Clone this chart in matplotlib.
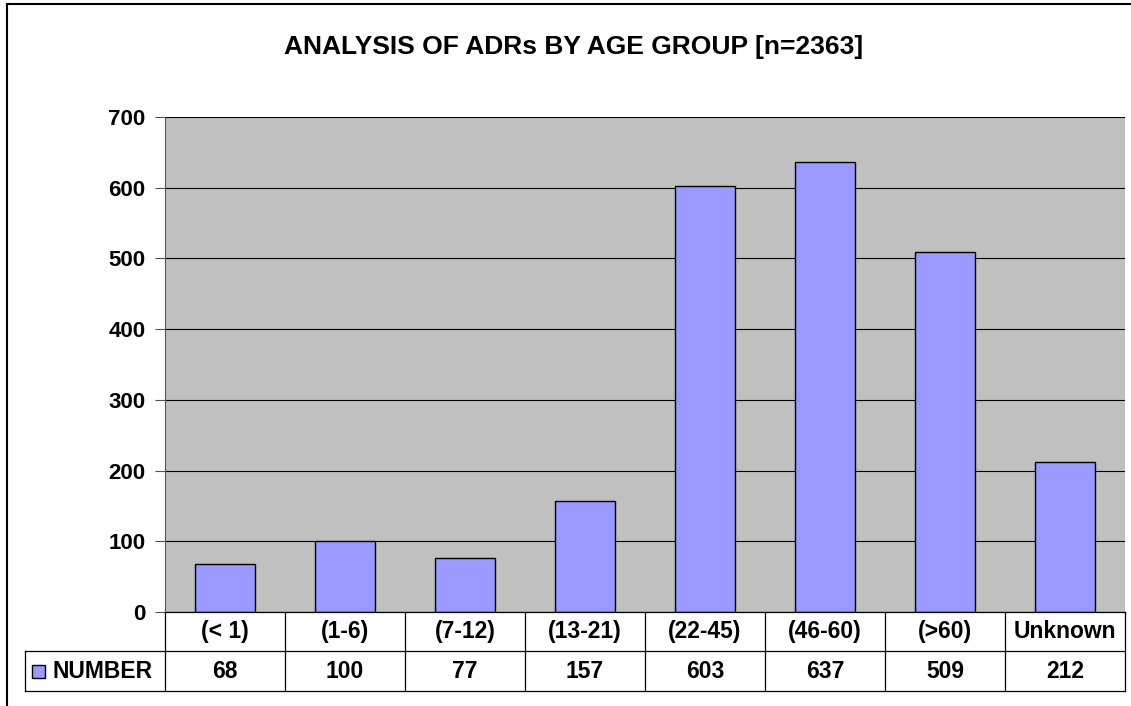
import matplotlib.pyplot as plt
from matplotlib.patches import Rectangle
from matplotlib.lines import Line2D
import matplotlib.transforms as mtransforms

categories = ['(< 1)', '(1-6)', '(7-12)', '(13-21)', '(22-45)', '(46-60)', '(>60)', 'Unknown']
values = [68, 100, 77, 157, 603, 637, 509, 212]
series_name = 'NUMBER'
title = 'ANALYSIS OF ADRs BY AGE GROUP [n=2363]'
yticks = [0, 100, 200, 300, 400, 500, 600, 700]

W, H = 1131, 706
bar_color = '#9999FF'
plt.rcParams['font.family'] = ['Liberation Sans', 'DejaVu Sans']

fig = plt.figure(figsize=(W / 100, H / 100), dpi=100)

# figure border (Excel chart area)
fig.add_artist(Rectangle((7 / W, -0.01), 1.02, 1 - 4 / H + 0.01, transform=fig.transFigure,
                         fill=False, edgecolor='black', linewidth=1.5))

px_left, px_right, px_top, px_bottom = 165, 1125, 117, 612
ax = fig.add_axes([px_left / W, 1 - px_bottom / H, (px_right - px_left) / W, (px_bottom - px_top) / H])
ax.set_facecolor('#C0C0C0')

x = range(len(categories))
ax.bar(x, values, width=0.5, color=bar_color, edgecolor='black', linewidth=1, zorder=3)
ax.set_xlim(-0.5, len(categories) - 0.5)
ax.set_ylim(0, 700)
ax.set_yticks(yticks)
ax.set_yticklabels([str(t) for t in yticks], fontsize=16, fontweight='bold')
ax.yaxis.grid(True, color='black', linewidth=0.8, zorder=1)
ax.set_axisbelow(True)
ax.tick_params(axis='y', length=7, width=0.8, pad=7, color='#555555')
ax.set_xticks([])
for s in ['top', 'right', 'bottom']:
    ax.spines[s].set_visible(False)
ax.spines['left'].set_color('#555555')

fig.text(574 / W, 1 - 47 / H, title, ha='center', va='center', fontsize=19, fontweight='bold')

# data table below the axis
trans = mtransforms.blended_transform_factory(ax.transData, fig.transFigure)
row1_top, row1_bot, row2_bot = 1 - 612 / H, 1 - 651 / H, 1 - 691 / H
lw = 0.9
n = len(categories)
fig.add_artist(Line2D([-0.5, n - 0.5], [row1_top, row1_top], transform=trans, color='black', lw=lw))
fig.add_artist(Line2D([25 / W, px_right / W], [row1_bot, row1_bot], transform=fig.transFigure, color='black', lw=lw))
fig.add_artist(Line2D([25 / W, px_right / W], [row2_bot, row2_bot], transform=fig.transFigure, color='black', lw=lw))
for i in range(n + 1):
    fig.add_artist(Line2D([i - 0.5, i - 0.5], [row1_top, row2_bot], transform=trans, color='black', lw=lw))
fig.add_artist(Line2D([25 / W, 25 / W], [row1_bot, row2_bot], transform=fig.transFigure, color='black', lw=lw))

for i, (c, v) in enumerate(zip(categories, values)):
    fig.text(i, (row1_top + row1_bot) / 2, c, transform=trans, ha='center', va='center',
             fontsize=16.5, fontweight='bold')
    fig.text(i, (row1_bot + row2_bot) / 2, str(v), transform=trans, ha='center', va='center',
             fontsize=16.5, fontweight='bold')

# legend key + series name
fig.add_artist(Rectangle((32 / W, 1 - 678 / H), 13 / W, 13 / H, transform=fig.transFigure,
                         facecolor=bar_color, edgecolor='black', linewidth=1))
fig.text(53 / W, (row1_bot + row2_bot) / 2, series_name, ha='left', va='center',
         fontsize=16.5, fontweight='bold')

fig.savefig('out.png', dpi=100)
